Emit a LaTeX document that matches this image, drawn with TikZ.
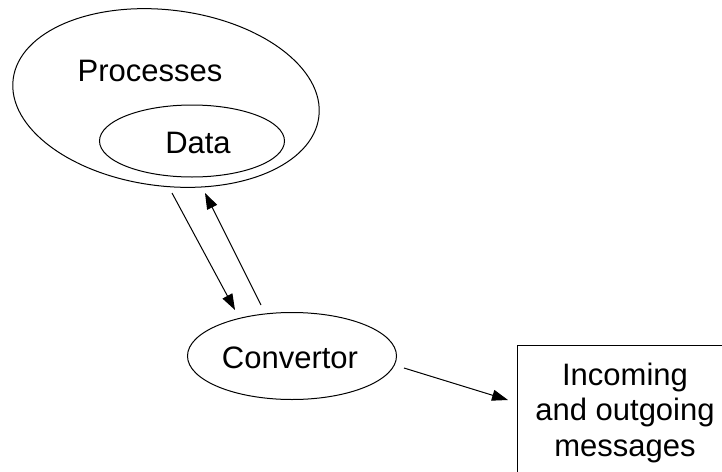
\documentclass[tikz,border=0pt]{standalone}
\usepackage{fontspec}
\setmainfont{Liberation Sans}
\usetikzlibrary{shapes.geometric,arrows.meta}
\begin{document}
\begin{tikzpicture}[x=1pt,y=-1pt,
  outline/.style={draw, line width=1pt, inner sep=0pt},
  oval/.style={outline, ellipse},
  lbl/.style={font=\fontsize{31}{36}\selectfont, inner sep=0pt, anchor=base},
  flow/.style={line width=1pt, -{Triangle[length=16pt,width=11pt]}}]
\useasboundingbox (0,0) rectangle (722,471);

% shapes
\node[oval, minimum width=308pt, minimum height=176pt, rotate=-7] (proc) at (166,98) {};
\node[oval, minimum width=185pt, minimum height=72pt] (data) at (192,141) {};
\node[oval, minimum width=209pt, minimum height=87pt] (conv) at (292,356) {};
% message box: only its top and left sides fall inside the picture
\coordinate (msgtl) at (517,345);
\coordinate (msgtr) at (740,345);
\coordinate (msgbl) at (517,490);
\draw[line width=1pt] (msgtr) -- (msgtl) -- (msgbl);

% labels
\node[lbl] (proclbl) at (150,81) {Processes};
\node[lbl] (datalbl) at (198,153) {Data};
\node[lbl] (convlbl) at (290,368) {Convertor};
\node[lbl] (msgl1) at (625,385) {Incoming};
\node[lbl] (msgl2) at (625,420.5) {and outgoing};
\node[lbl] (msgl3) at (625,456) {messages};

% connectors
\coordinate (a1) at (172,193); \coordinate (a2) at (235,310);
\coordinate (b1) at (261,305); \coordinate (b2) at (205,193);
\coordinate (c1) at (404,368); \coordinate (c2) at (508,400);
\draw[flow] (a1) -- (a2);
\draw[flow] (b1) -- (b2);
\draw[flow] (c1) -- (c2);
\end{tikzpicture}
\end{document}
